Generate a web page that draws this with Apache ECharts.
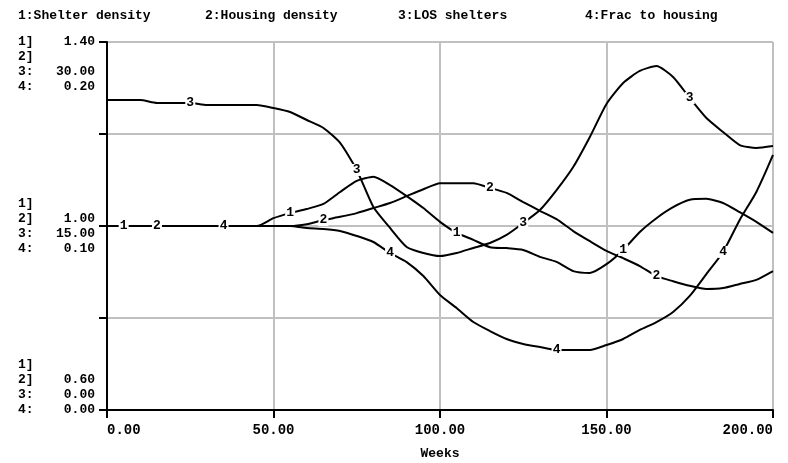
<!DOCTYPE html>
<html>
<head>
<meta charset="utf-8">
<script src="https://cdn.jsdelivr.net/npm/echarts@6/dist/echarts.min.js"></script>
<style>
  html, body { margin: 0; padding: 0; background: #fff; }
  #chart { width: 788px; height: 463px; }
</style>
</head>
<body>
<div id="chart"></div>
<script>
// weeks sampled every 5
var weeks = [0,5,10,15,20,25,30,35,40,45,50,55,60,65,70,75,80,85,90,95,100,
             105,110,115,120,125,130,135,140,145,150,155,160,165,170,175,180,185,190,195,200];

// 1: Shelter density
var shelterDensity = [1.00,1.00,1.00,1.00,1.00,1.00,1.00,1.00,1.00,1.00,1.017,1.028,1.037,1.048,1.074,1.098,1.107,1.089,1.065,1.039,1.009,
                      0.985,0.970,0.954,0.952,0.948,0.933,0.922,0.902,0.898,0.917,0.948,0.987,1.017,1.041,1.057,1.059,1.050,1.030,1.009,0.985];
// 2: Housing density
var housingDensity = [1.00,1.00,1.00,1.00,1.00,1.00,1.00,1.00,1.00,1.00,1.00,1.00,1.004,1.013,1.020,1.028,1.039,1.050,1.065,1.080,1.093,
                      1.093,1.093,1.083,1.072,1.052,1.033,1.015,0.989,0.967,0.946,0.930,0.913,0.891,0.880,0.870,0.863,0.865,0.874,0.883,0.902];
// 3: LOS shelters
var losShelters = [25.27,25.27,25.27,25.03,25.03,25.03,24.86,24.86,24.86,24.86,24.62,24.29,23.64,22.99,21.77,19.57,16.55,14.84,13.29,12.80,12.55,
                   12.80,13.21,13.61,14.27,15.24,16.30,17.93,19.81,22.26,24.95,26.66,27.64,28.04,27.15,25.43,23.80,22.66,21.60,21.36,21.52];
// 4: Frac to housing
var fracToHousing = [0.100,0.100,0.100,0.100,0.100,0.100,0.100,0.100,0.100,0.100,0.100,0.100,0.0989,0.0984,0.0973,0.0946,0.0913,0.0853,0.0804,0.0728,0.0625,
                     0.0554,0.0478,0.0429,0.0386,0.0359,0.0342,0.0326,0.0326,0.0326,0.0353,0.0386,0.0435,0.0478,0.0533,0.0620,0.0739,0.0859,0.1033,0.1185,0.1386];

var seriesNames = ['1:Shelter density', '2:Housing density', '3:LOS shelters', '4:Frac to housing'];
// weeks where the number tag sits on each line
var tagWeeks = [[5,55,105,155],[15,65,115,165],[25,75,125,175],[35,85,135,185]];

// left scale labels: value on the first axis -> rows of the label block
var scaleRows = {
  '1.4': [['1]','1.40'],['2]',''],['3:','30.00'],['4:','0.20']],
  '1': [['1]',''],['2]','1.00'],['3:','15.00'],['4:','0.10']],
  '0.6': [['1]',''],['2]','0.60'],['3:','0.00'],['4:','0.00']]
};

var FONT = 'Liberation Mono';
var legendLeft = [18, 205, 398, 585];
var dom = document.getElementById('chart');
var myChart = echarts.init(dom);

var buildData = function(vals, tags, num) {
  var out = [];
  for (var i = 0; i < weeks.length; i++) {
    if (tags.indexOf(weeks[i]) >= 0) {
      out.push({
        value: [weeks[i], vals[i]],
        symbol: 'rect',
        symbolSize: [10, 12],
        itemStyle: { color: '#fff', borderWidth: 0 },
        label: { show: true, position: 'inside', formatter: String(num),
                 color: '#000', fontFamily: FONT, fontWeight: 'bold', fontSize: 13 }
      });
    } else {
      out.push({ value: [weeks[i], vals[i]], symbol: 'none' });
    }
  }
  return out;
};

var rowText = function(rows, blankBefore, blankAfter) {
  var lines = [];
  var i;
  for (i = 0; i < blankBefore; i++) lines.push('{n| }{v| }');
  for (i = 0; i < rows.length; i++) {
    lines.push('{n|' + rows[i][0] + '}{v|' + (rows[i][1] || ' ') + '}');
  }
  for (i = 0; i < blankAfter; i++) lines.push('{n| }{v| }');
  return lines.join('\n');
};

var allVals = [shelterDensity, housingDensity, losShelters, fracToHousing];
var axisIdx = [0, 0, 1, 2];
var series = [];
var legends = [];
for (var s = 0; s < 4; s++) {
  series.push({
    name: seriesNames[s],
    type: 'line',
    yAxisIndex: axisIdx[s],
    data: buildData(allVals[s], tagWeeks[s], s + 1),
    showSymbol: true,
    showAllSymbol: true,
    smooth: 0.2,
    lineStyle: { color: '#000', width: 2 },
    itemStyle: { color: '#000' },
    emphasis: { disabled: true },
    z: 2
  });
  legends.push({
    left: legendLeft[s] - 10,
    top: 4,
    icon: 'none',
    itemWidth: 0,
    itemHeight: 0,
    selectedMode: false,
    textStyle: { color: '#000', fontFamily: FONT, fontWeight: 'bold', fontSize: 13 },
    data: [seriesNames[s]]
  });
}

var option = {
  backgroundColor: '#fff',
  animation: false,
  legend: legends,
  grid: { left: 107, right: 15, top: 42, bottom: 53, outerBoundsMode: 'none', containLabel: false },
  xAxis: {
    type: 'value',
    min: 0, max: 200, interval: 50,
    name: 'Weeks',
    nameLocation: 'middle',
    nameGap: 37,
    nameTextStyle: { color: '#000', fontFamily: FONT, fontWeight: 'bold', fontSize: 13 },
    axisLine: { onZero: false, lineStyle: { color: '#000', width: 2 } },
    axisTick: { show: true, length: 8, lineStyle: { color: '#000', width: 2 } },
    axisLabel: {
      color: '#000', fontFamily: FONT, fontWeight: 'bold', fontSize: 14, margin: 13,
      alignMinLabel: 'left', alignMaxLabel: 'right',
      formatter: function(v) { return v.toFixed(2); }
    },
    splitLine: { show: true, lineStyle: { color: '#c0c0c0', width: 2 } }
  },
  yAxis: [{
    type: 'value',
    min: 0.6, max: 1.4, interval: 0.2,
    position: 'left',
    axisLine: { show: true, onZero: false, lineStyle: { color: '#000', width: 2 } },
    axisTick: { show: true, length: 8, lineStyle: { color: '#000', width: 2 } },
    splitLine: { show: true, lineStyle: { color: '#c0c0c0', width: 2 } },
    axisLabel: {
      margin: 12,
      showMinLabel: true, showMaxLabel: true,
      formatter: function(v) {
        var key = String(Math.round(v * 10) / 10);
        var rows = scaleRows[key];
        if (!rows) return '';
        if (key === '1.4') return rowText(rows, 3, 0);
        if (key === '0.6') return rowText(rows, 0, 3);
        return rowText(rows, 0, 0);
      },
      rich: {
        n: { width: 30, align: 'left', color: '#000', fontFamily: FONT, fontWeight: 'bold', fontSize: 13, lineHeight: 15 },
        v: { width: 47, align: 'right', color: '#000', fontFamily: FONT, fontWeight: 'bold', fontSize: 13, lineHeight: 15 }
      }
    }
  }, {
    type: 'value', min: 0, max: 30, show: false, splitLine: { show: false }
  }, {
    type: 'value', min: 0, max: 0.2, show: false, splitLine: { show: false }
  }],
  series: series
};

myChart.setOption(option, true);
</script>
</body>
</html>
